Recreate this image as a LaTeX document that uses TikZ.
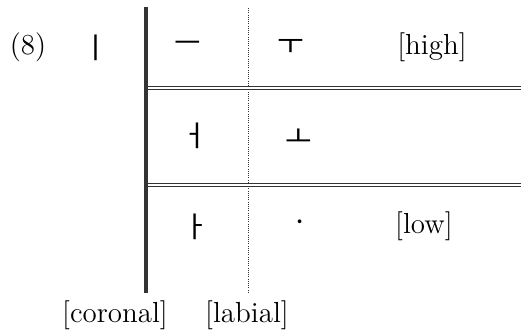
\documentclass[tikz,border=0pt]{standalone}
\usepackage{fontspec}
\newfontfamily\kor{Noto Sans CJK KR}
\usetikzlibrary{positioning}
\definecolor{c1}{rgb}{0.20, 0.20, 0.20}
\tikzset{
  jamo/.style={font=\kor\fontsize{14.5}{14.5}\selectfont, inner sep=0pt},
  feat/.style={font=\fontsize{14.5}{17}\selectfont, inner sep=0pt},
  bar_thick/.style={c1, line width=2.3pt},
  rule_dbl/.style={c1, double, line width=0.55pt, double distance=1.1pt},
  rule_dot/.style={c1, line width=0.5pt, dash pattern=on 0.5pt off 0.6pt},
}

\begin{document}
\begin{tikzpicture}[x=0.5pt, y=-0.5pt]
\useasboundingbox (0,0) rectangle (521,332);

% column and row lines
\coordinate (bt) at (146,7);
\coordinate (bb) at (146,293);
\coordinate (dt) at (248,8);
\coordinate (db) at (248,293);
\coordinate (r1l) at (148,88);
\coordinate (r1r) at (521,88);
\coordinate (r2l) at (148,185);
\coordinate (r2r) at (521,185);

\draw[bar_thick] (bt) -- (bb);
\draw[rule_dot] (dt) -- (db);
\draw[rule_dbl] (r1l) -- (r1r);
\draw[rule_dbl] (r2l) -- (r2r);

% first row
\node[feat] (ex) at (28,47) {(8)};
\node[jamo] (i) at (96,48) {ㅣ};
\node[jamo] (eu) at (188,47) {ㅡ};
\node[jamo] (u) at (291,47) {ㅜ};
\node[feat] (high) at (432,47) {[high]};

% second row
\node[jamo] (eo) at (195,136) {ㅓ};
\node[jamo] (o) at (299,138) {ㅗ};

% third row
\node[jamo] (a) at (196,227) {ㅏ};
\node[jamo] (ara) at (300,226) {ㆍ};
\node[feat] (low) at (424,226) {[low]};

% column labels
\node[feat] (cor) at (115,315) {[coronal]};
\node[feat] (lab) at (247,315) {[labial]};

\end{tikzpicture}
\end{document}
